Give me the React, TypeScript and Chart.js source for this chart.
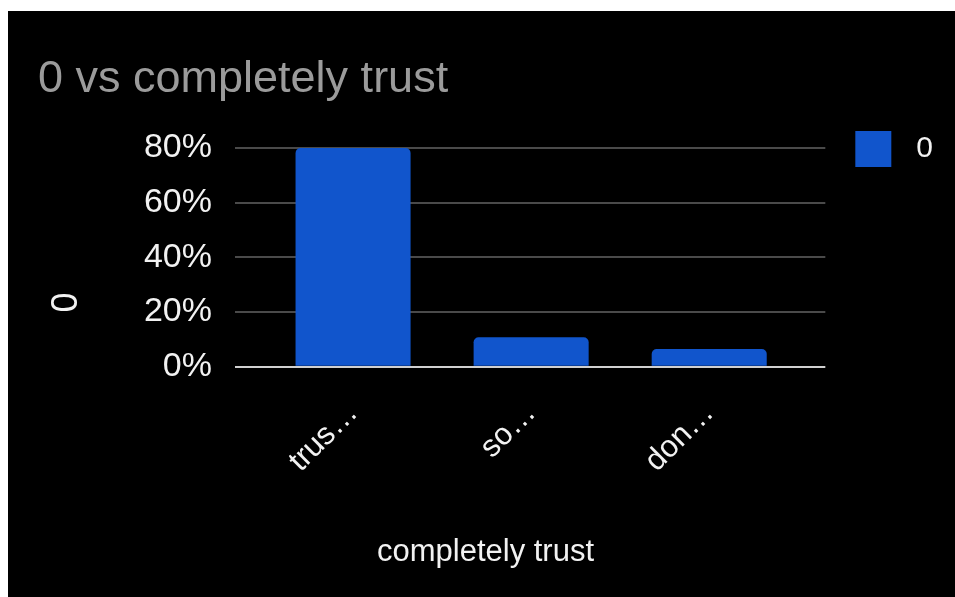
import React, { useEffect, useRef } from "react";
import { Chart, registerables } from "chart.js";

Chart.register(...registerables);

const chartTitle = "0 vs completely trust";
const xAxisTitle = "completely trust";
const yAxisTitle = "0";
const seriesLabel = "0";
const categories = ["trus…", "so…", "don…"];
const shareValues = [80, 10.8, 6.5];
const yTickValues = [0, 20, 40, 60, 80];

export default function App() {
  const canvasRef = useRef<HTMLCanvasElement | null>(null);

  useEffect(() => {
    if (!canvasRef.current) return;
    Chart.defaults.font.family = '"Liberation Sans", Arial, sans-serif';
    const chart = new Chart(canvasRef.current, {
      type: "bar",
      data: {
        datasets: [
          {
            label: seriesLabel,
            data: categories.map((_, i) => ({ x: i, y: shareValues[i] })),
            backgroundColor: "#1155cc",
            borderRadius: 5,
            barPercentage: 0.646,
            categoryPercentage: 1,
          },
        ],
      },
      options: {
        animation: false,
        responsive: true,
        maintainAspectRatio: false,
        layout: { padding: { left: 30, right: 22, top: 0, bottom: 0 } },
        plugins: {
          title: {
            display: true,
            text: chartTitle,
            align: "start",
            color: "#9b9b9b",
            font: { size: 45, weight: "normal" },
            padding: { top: 42, bottom: 41 },
          },
          subtitle: {
            display: true,
            position: "bottom",
            text: xAxisTitle,
            color: "#f2f2f2",
            font: { size: 31, weight: "normal" },
            padding: { top: 0, bottom: 26 },
          },
          legend: {
            position: "right",
            align: "start",
            title: { display: true, text: "", font: { size: 10 }, padding: { top: 0, bottom: 78 } },
            labels: {
              boxWidth: 36,
              boxHeight: 36,
              padding: 30,
              textAlign: "right",
              color: "#f2f2f2",
              font: { size: 30 },
            },
          },
          tooltip: { enabled: false },
        },
        scales: {
          x: {
            type: "linear",
            offset: false,
            min: -0.663,
            max: 2.652,
            afterBuildTicks: (s: any) => {
              s.ticks = categories.map((_, i) => ({ value: i }));
            },
            afterFit: (s: any) => {
              s.height = 167;
            },
            grid: { display: false, drawTicks: false, offset: false },
            border: { display: false },
            ticks: {
              autoSkip: false,
              maxRotation: 45,
              minRotation: 45,
              padding: 28,
              color: "#f2f2f2",
              font: { size: 31 },
              callback: (v: any) => categories[v] ?? "",
            },
          },
          y: {
            min: 0,
            max: 80,
            afterBuildTicks: (s: any) => {
              s.ticks = yTickValues.map((v) => ({ value: v }));
            },
            afterFit: (s: any) => {
              s.width = 197;
            },
            grid: {
              color: (c: any) => (c.tick && c.tick.value === 0 ? "#d0d0d0" : "#4a4a4a"),
              lineWidth: 2,
              drawTicks: false,
            },
            border: { display: false },
            ticks: {
              padding: 23,
              color: "#f2f2f2",
              font: { size: 34 },
              callback: (v: any) => v + "%",
            },
            title: {
              display: true,
              text: yAxisTitle + "         ",
              color: "#f2f2f2",
              font: { size: 36 },
              padding: { top: 7, bottom: 0 },
            },
          },
        },
      },
    });
    return () => chart.destroy();
  }, []);

  return (
    <div
      style={{
        position: "absolute",
        left: 8,
        top: 11,
        width: 947,
        height: 586,
        background: "#000",
      }}
    >
      <canvas ref={canvasRef} />
    </div>
  );
}
